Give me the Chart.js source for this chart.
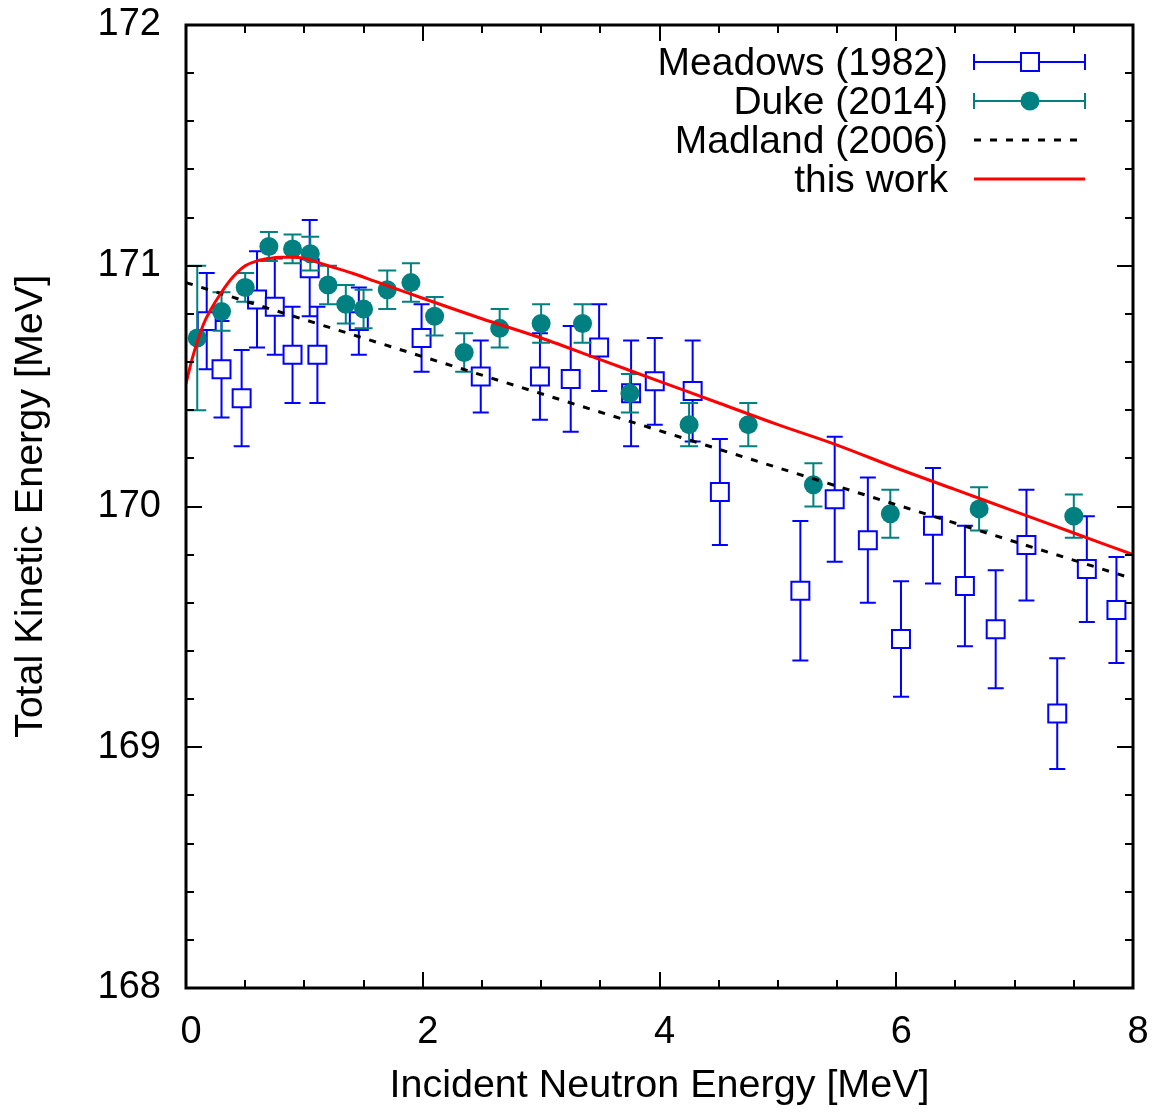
<!DOCTYPE html>
<html>
<head>
<meta charset="utf-8">
<script src="https://cdn.jsdelivr.net/npm/chart.js@4.4.1/dist/chart.umd.min.js"></script>
<style>
  body { margin: 0; background: #fff; }
  #wrap { width: 1155px; height: 1112px; }
</style>
</head>
<body>
<div id="wrap"><canvas id="tke-chart" width="1155" height="1112"></canvas></div>
<script>
// Meadows (1982): incident energy, TKE and its error
const meadowsE = [0.175, 0.30, 0.47, 0.60, 0.75, 0.90, 1.045, 1.11, 1.46, 1.99, 2.49, 2.99, 3.25, 3.49, 3.76,
  3.96, 4.28, 4.51, 5.19, 5.48, 5.76, 6.04, 6.31, 6.58, 6.84, 7.10, 7.36, 7.61, 7.86];
const meadowsTKE = [170.77, 170.57, 170.45, 170.86, 170.83, 170.63, 170.99, 170.63, 170.77, 170.70, 170.54,
  170.54, 170.53, 170.66, 170.47, 170.52, 170.48, 170.06, 169.65, 170.03, 169.86, 169.45, 169.92, 169.67,
  169.49, 169.84, 169.14, 169.74, 169.57];
const meadowsErr = [0.20, 0.20, 0.20, 0.20, 0.20, 0.20, 0.20, 0.20, 0.14, 0.14, 0.15, 0.18, 0.22, 0.18, 0.22,
  0.18, 0.21, 0.22, 0.29, 0.26, 0.26, 0.24, 0.24, 0.25, 0.245, 0.23, 0.23, 0.22, 0.22];

// Duke (2014)
const dukeE = [0.095, 0.30, 0.50, 0.70, 0.90, 1.05, 1.20, 1.35, 1.50, 1.70, 1.90, 2.10, 2.35, 2.65, 3.00,
  3.35, 3.75, 4.25, 4.75, 5.30, 5.95, 6.70, 7.50];
const dukeTKE = [170.70, 170.81, 170.91, 171.08, 171.07, 171.05, 170.92, 170.84, 170.82, 170.90, 170.93,
  170.79, 170.64, 170.74, 170.76, 170.76, 170.47, 170.34, 170.34, 170.09, 169.97, 169.99, 169.96];
const dukeErr = [0.30, 0.08, 0.06, 0.06, 0.06, 0.07, 0.08, 0.08, 0.08, 0.08, 0.08, 0.08, 0.08, 0.08, 0.08,
  0.08, 0.08, 0.09, 0.09, 0.09, 0.10, 0.09, 0.09];

// Madland (2006) systematics
const madlandE = [0, 8];
const madlandTKE = [170.93, 169.70];

// this work
const workE = [0, 0.05, 0.1, 0.15, 0.2, 0.3, 0.4, 0.5, 0.6, 0.7, 0.8, 0.9, 1.0, 1.2, 1.4, 1.6, 1.8, 2.0,
  2.5, 3.0, 3.5, 4.0, 4.5, 5.0, 5.5, 6.0, 6.5, 7.0, 7.5, 8.0];
const workTKE = [170.51, 170.61, 170.69, 170.76, 170.81, 170.89, 170.955, 171.0, 171.02, 171.03, 171.035,
  171.035, 171.03, 171.0, 170.97, 170.935, 170.9, 170.865, 170.78, 170.7, 170.61, 170.52, 170.43, 170.34,
  170.255, 170.16, 170.07, 169.98, 169.89, 169.8];

// axis ticks
const xTicks = [0, 2, 4, 6, 8];
const yTicks = [168, 169, 170, 171, 172];
const xMinorStep = 0.5;
const yMinorStep = 0.2;

const legendLabels = ["Meadows (1982)", "Duke (2014)", "Madland (2006)", "this work"];

const FONT = "'Liberation Sans', Arial, sans-serif";
const BLUE = "#0000ff";
const TEAL = "#008080";

function toPoints(xs, ys) {
  return xs.map((x, i) => ({ x: x, y: ys[i] }));
}

// Draws vertical error bars under each dataset that has errors
const errorBarPlugin = {
  id: "errorBars",
  beforeDatasetDraw(chart, args) {
    const ds = chart.data.datasets[args.index];
    if (!ds.errors) return;
    const ctx = chart.ctx;
    const xs = chart.scales.x;
    const ys = chart.scales.y;
    const area = chart.chartArea;
    ctx.save();
    ctx.beginPath();
    ctx.rect(area.left, area.top, area.right - area.left, area.bottom - area.top);
    ctx.clip();
    ctx.strokeStyle = ds.errorColor;
    ctx.lineWidth = 2;
    ds.data.forEach(function(p, i) {
      const px = xs.getPixelForValue(p.x);
      const top = ys.getPixelForValue(p.y + ds.errors[i]);
      const bot = ys.getPixelForValue(p.y - ds.errors[i]);
      ctx.beginPath();
      ctx.moveTo(px, top);
      ctx.lineTo(px, bot);
      ctx.moveTo(px - ds.capHalf, top);
      ctx.lineTo(px + ds.capHalf, top);
      ctx.moveTo(px - ds.capHalf, bot);
      ctx.lineTo(px + ds.capHalf, bot);
      ctx.stroke();
    });
    ctx.restore();
  }
};

// Frame with inward ticks on all four sides, plus the key
const framePlugin = {
  id: "frame",
  afterDraw(chart) {
    const ctx = chart.ctx;
    const a = chart.chartArea;
    const xs = chart.scales.x;
    const ys = chart.scales.y;
    ctx.save();
    ctx.strokeStyle = "#000";
    ctx.lineWidth = 2;
    ctx.beginPath();
    for (let v = xs.min; v <= xs.max + 1e-9; v += xMinorStep) {
      const px = Math.round(xs.getPixelForValue(v));
      const len = xTicks.includes(Math.round(v * 1000) / 1000) ? 16 : 8;
      ctx.moveTo(px, a.bottom);
      ctx.lineTo(px, a.bottom - len);
      ctx.moveTo(px, a.top);
      ctx.lineTo(px, a.top + len);
    }
    for (let v = ys.min; v <= ys.max + 1e-9; v += yMinorStep) {
      const py = Math.round(ys.getPixelForValue(v));
      const len = yTicks.includes(Math.round(v * 1000) / 1000) ? 16 : 8;
      ctx.moveTo(a.left, py);
      ctx.lineTo(a.left + len, py);
      ctx.moveTo(a.right, py);
      ctx.lineTo(a.right - len, py);
    }
    ctx.stroke();
    ctx.lineWidth = 3;
    ctx.strokeRect(a.left, a.top, a.right - a.left, a.bottom - a.top);

    // key
    const textRight = 948;
    const x0 = 974, x1 = 1085, xm = 1030;
    const rows = [62, 101, 140, 179];
    ctx.font = "39px " + FONT;
    ctx.fillStyle = "#000";
    ctx.textAlign = "right";
    ctx.textBaseline = "middle";
    legendLabels.forEach(function(label, i) {
      ctx.fillText(label, textRight, rows[i] + 2);
    });
    // Meadows sample
    ctx.lineWidth = 2;
    ctx.strokeStyle = BLUE;
    ctx.beginPath();
    ctx.moveTo(x0, rows[0]); ctx.lineTo(x1, rows[0]);
    ctx.moveTo(x0, rows[0] - 8); ctx.lineTo(x0, rows[0] + 8);
    ctx.moveTo(x1, rows[0] - 8); ctx.lineTo(x1, rows[0] + 8);
    ctx.stroke();
    ctx.fillStyle = "#fff";
    ctx.fillRect(xm - 9, rows[0] - 9, 18, 18);
    ctx.strokeRect(xm - 9, rows[0] - 9, 18, 18);
    // Duke sample
    ctx.strokeStyle = TEAL;
    ctx.beginPath();
    ctx.moveTo(x0, rows[1]); ctx.lineTo(x1, rows[1]);
    ctx.moveTo(x0, rows[1] - 8); ctx.lineTo(x0, rows[1] + 8);
    ctx.moveTo(x1, rows[1] - 8); ctx.lineTo(x1, rows[1] + 8);
    ctx.stroke();
    ctx.fillStyle = TEAL;
    ctx.beginPath();
    ctx.arc(xm, rows[1], 9.5, 0, Math.PI * 2);
    ctx.fill();
    // Madland sample
    ctx.strokeStyle = "#000";
    ctx.lineWidth = 3;
    ctx.setLineDash([7, 9]);
    ctx.beginPath();
    ctx.moveTo(x0, rows[2]); ctx.lineTo(x1 - 6, rows[2]);
    ctx.stroke();
    ctx.setLineDash([]);
    // this work sample
    ctx.strokeStyle = "#ff0000";
    ctx.beginPath();
    ctx.moveTo(x0, rows[3]); ctx.lineTo(x1, rows[3]);
    ctx.stroke();
    ctx.restore();
  }
};

const ctx = document.getElementById("tke-chart").getContext("2d");
const chart = new Chart(ctx, {
  type: "scatter",
  data: {
    datasets: [
      {
        label: legendLabels[0],
        data: toPoints(meadowsE, meadowsTKE),
        errors: meadowsErr,
        errorColor: BLUE,
        capHalf: 8,
        pointStyle: "rect",
        pointRadius: 12.7,
        pointBackgroundColor: "#fff",
        pointBorderColor: BLUE,
        pointBorderWidth: 2,
        showLine: false,
        order: 4
      },
      {
        label: legendLabels[1],
        data: toPoints(dukeE, dukeTKE),
        errors: dukeErr,
        errorColor: TEAL,
        capHalf: 9,
        pointStyle: "circle",
        pointRadius: 9.5,
        pointBackgroundColor: TEAL,
        pointBorderColor: TEAL,
        pointBorderWidth: 0,
        showLine: false,
        order: 3
      },
      {
        label: legendLabels[2],
        data: toPoints(madlandE, madlandTKE),
        showLine: true,
        borderColor: "#000",
        borderWidth: 3,
        borderDash: [7, 9],
        pointRadius: 0,
        order: 2
      },
      {
        label: legendLabels[3],
        data: toPoints(workE, workTKE),
        showLine: true,
        borderColor: "#ff0000",
        borderWidth: 3,
        cubicInterpolationMode: "monotone",
        pointRadius: 0,
        order: 1
      }
    ]
  },
  options: {
    responsive: false,
    animation: false,
    layout: { padding: { left: 0, right: 22, top: 25, bottom: 0 } },
    plugins: {
      legend: { display: false },
      tooltip: { enabled: false }
    },
    scales: {
      x: {
        type: "linear",
        min: 0,
        max: 8,
        afterBuildTicks: function(scale) { scale.ticks = xTicks.map(v => ({ value: v })); },
        afterFit: function(scale) { scale.height = 124; },
        // invisible tick marks only push the labels away from the frame
        grid: { display: true, drawOnChartArea: false, drawTicks: true, tickLength: 22, color: "rgba(0,0,0,0)" },
        border: { display: false },
        ticks: {
          color: "#000",
          font: { family: FONT, size: 38 },
          padding: 0,
          labelOffset: 5,
          maxRotation: 0
        },
        title: {
          display: true,
          text: "Incident Neutron Energy [MeV]",
          color: "#000",
          font: { family: FONT, size: 39.5 },
          padding: { top: 0, bottom: 2 }
        }
      },
      y: {
        type: "linear",
        min: 168,
        max: 172,
        afterBuildTicks: function(scale) { scale.ticks = yTicks.map(v => ({ value: v })); },
        afterFit: function(scale) { scale.width = 186; },
        grid: { display: true, drawOnChartArea: false, drawTicks: true, tickLength: 25, color: "rgba(0,0,0,0)" },
        border: { display: false },
        ticks: {
          color: "#000",
          font: { family: FONT, size: 38 },
          padding: 0
        },
        title: {
          display: true,
          text: "Total Kinetic Energy [MeV]",
          color: "#000",
          font: { family: FONT, size: 39.5 },
          padding: { top: 7, bottom: 0 }
        }
      }
    }
  },
  plugins: [errorBarPlugin, framePlugin]
});
</script>
</body>
</html>
